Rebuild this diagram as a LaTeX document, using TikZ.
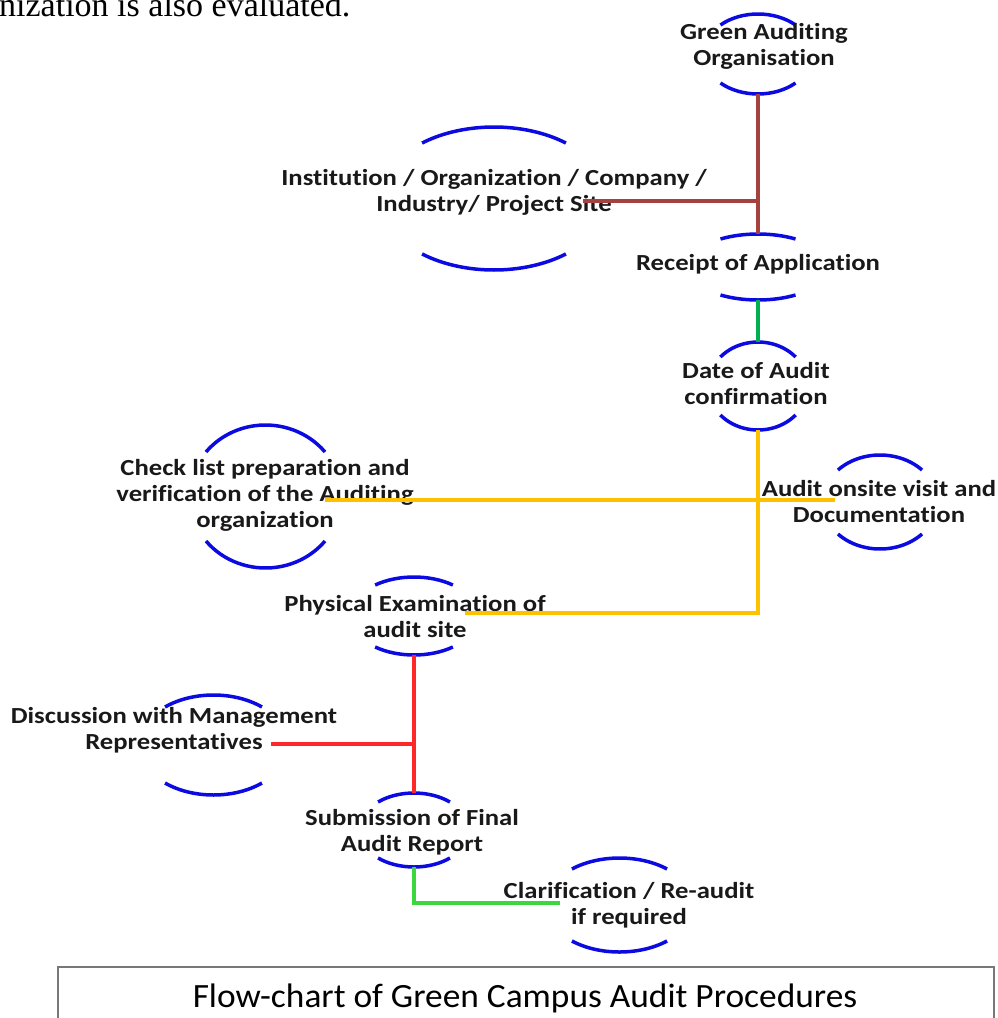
\documentclass[tikz,border=0pt]{standalone}
\usepackage{fontspec}
\setmainfont{Carlito}[Ligatures=NoCommon]
\newfontfamily\nodefont{Carlito}[FakeStretch=1.16, Ligatures=NoCommon]
\newfontfamily\capfont{Carlito}[FakeStretch=1.04, Ligatures=NoCommon]
\newfontfamily\serifrm{Liberation Serif}
\definecolor{arcblue}{RGB}{10,10,225}
\definecolor{brownc}{RGB}{165,65,62}
\definecolor{greenA}{RGB}{0,176,80}
\definecolor{yellowc}{RGB}{255,192,0}
\definecolor{redc}{RGB}{255,40,40}
\definecolor{greenB}{RGB}{60,215,60}
\definecolor{boxgray}{RGB}{120,120,120}
\definecolor{textc}{RGB}{25,25,25}
\newcommand{\ovalpair}[6]{%
  \draw[ovalarc] ({#2+#4*cos(#6)},{-#3+#5*sin(#6)}) arc[start angle=#6, end angle={180-#6}, x radius=#4, y radius=#5];
  \draw[ovalarc] ({#2-#4*cos(#6)},{-#3-#5*sin(#6)}) arc[start angle={180+#6}, end angle={360-#6}, x radius=#4, y radius=#5];
  \coordinate (#1-t) at (#2,{-#3+#5});
  \coordinate (#1-b) at (#2,{-#3-#5});
}
\begin{document}
\begin{tikzpicture}[x=1pt,y=1pt,
  ovalarc/.style={draw=arcblue, line width=3.5pt},
  lbl/.style={font=\nodefont\bfseries\fontsize{23}{26}\selectfont, align=center, text=textc, inner sep=0pt, yshift=-2pt},
  conn/.style={line width=3.2pt},
]
\useasboundingbox (0,-1018) rectangle (997,0);
\clip (0,-1018) rectangle (997,0);

% intro text (cut at top, as in the source)
\node[font=\serifrm\fontsize{34}{40}\selectfont, anchor=base west, inner sep=0pt, text=black] (intro) at (-1,-16) {nization is also evaluated.};

% oval arcs
\ovalpair{gao}{758}{54}{54.5}{40}{46.5}
\ovalpair{inst}{494}{198.5}{114}{71.5}{50.9}
\ovalpair{rec}{758}{267}{70.8}{33}{58}
\ovalpair{date}{758}{386}{50}{44}{41.2}
\ovalpair{onsite}{880}{502}{57.4}{47}{42.9}
\ovalpair{check}{265.5}{496.5}{76}{71.5}{38.5}
\ovalpair{phys}{414}{616}{64}{39}{52.6}
\ovalpair{disc}{213.5}{745}{74.6}{50}{49.5}
\ovalpair{sub}{414}{830}{55}{37}{49.2}
\ovalpair{clar}{619.5}{905}{74}{47}{50}

% labels
\node[lbl] (gao) at (764,-44) {Green Auditing\\Organisation};
\node[lbl] (inst) at (494,-190.5) {Institution / Organization / Company /\\Industry/ Project Site};
\node[lbl] (rec) at (758,-262) {Receipt of Application};
\node[lbl] (date) at (756,-381.5) {Date of Audit\\confirmation};
\node[lbl] (onsite) at (879,-500) {Audit onsite visit and\\Documentation};
\node[lbl] (check) at (265,-493) {Check list preparation and\\verification of the Auditing\\organization};
\node[lbl] (phys) at (415,-615) {Physical Examination of\\audit site};
\node[lbl] (disc) at (174,-728.5) {Discussion with Management\\Representatives};
\node[lbl] (sub) at (412,-830) {Submission of Final\\Audit Report};
\node[lbl] (clar) at (629,-903.5) {Clarification / Re-audit\\if required};

% connector end points
\coordinate (instR) at (583,-201);
\coordinate (j1) at (758,-201);
\coordinate (checkR) at (325,-500);
\coordinate (onsiteR) at (835,-500);
\coordinate (physR) at (465,-613);
\coordinate (discR) at (271,-744);
\coordinate (j2) at (414,-744);
\coordinate (clarL) at (560,-903);

% connectors
\draw[conn, brownc] (gao-b) -- (rec-t);
\draw[conn, brownc] (instR) -- (j1);
\draw[conn, greenA] (rec-b) -- (date-t);
\draw[conn, yellowc] (date-b) |- (physR);
\draw[conn, yellowc] (checkR) -- (onsiteR);
\draw[conn, redc] (phys-b) -- (sub-t);
\draw[conn, redc] (discR) -- (j2);
\draw[conn, greenB] (sub-b) |- (clarL);

% caption box
\node[draw=boxgray, line width=2pt, minimum width=936pt, minimum height=90pt, anchor=north west, inner sep=0pt] (capbox) at (57,-966) {};
\node[font=\capfont\fontsize{34}{38}\selectfont, anchor=base, inner sep=0pt, text=black] (cap) at (525,-1007) {Flow-chart of Green Campus Audit Procedures};
\end{tikzpicture}
\end{document}
